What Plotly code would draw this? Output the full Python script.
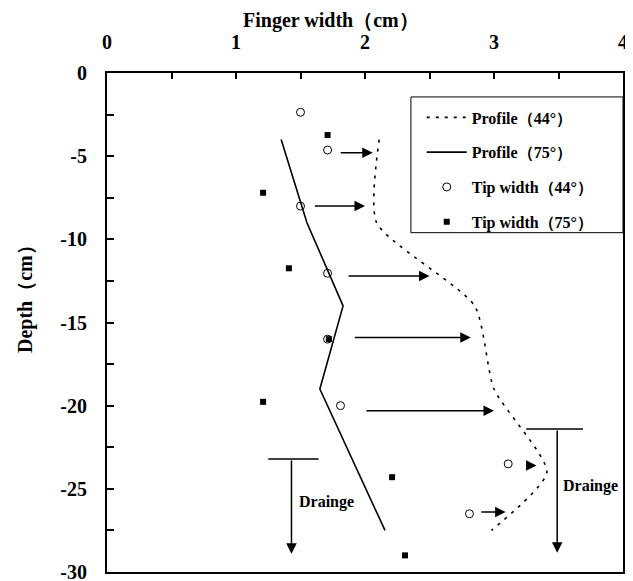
import plotly.graph_objects as go

# ---- data ----
depth_44 = [-4, -9, -14, -19, -24, -27.5]
profile_44 = [2.11, 2.09, 2.85, 3.0, 3.41, 2.98]

depth_75 = [-4, -9, -14, -19, -27.5]
profile_75 = [1.35, 1.55, 1.83, 1.65, 2.155]

tip44_depth = [-2.36, -4.63, -8.0, -12.04, -16.0, -20.0, -23.5, -26.5]
tip44_width = [1.50, 1.71, 1.50, 1.71, 1.71, 1.81, 3.11, 2.81]

tip75_depth = [-3.73, -7.2, -11.74, -16.0, -19.77, -24.3, -29.0]
tip75_width = [1.71, 1.21, 1.41, 1.72, 1.21, 2.21, 2.31]

# horizontal growth arrows: start width, end width, depth
arrow_start = [1.80, 1.60, 1.86, 1.91, 2.00, 3.24, 2.89]
arrow_end = [2.06, 2.00, 2.50, 2.82, 3.00, 3.33, 3.09]
arrow_depth = [-4.79, -8.0, -12.2, -15.9, -20.3, -23.6, -26.4]

# drainage markers: bar x0, bar x1, arrow x, top depth, bottom depth, label x, label y
drain_bar_x0 = [1.25, 3.25]
drain_bar_x1 = [1.64, 3.69]
drain_arrow_x = [1.43, 3.49]
drain_top = [-23.2, -21.4]
drain_bottom = [-28.9, -28.85]
drain_label_x = [1.70, 3.75]
drain_label_y = [-25.8, -24.8]
drain_label = "Drainge"

x_ticks = [0, 1, 2, 3, 4]
x_tick_labels = ["0", "1", "2", "3", "4"]
y_ticks = [0, -5, -10, -15, -20, -25, -30]
y_tick_labels = ["0", "-5", "-10", "-15", "-20", "-25", "-30"]

FONT = "Liberation Serif, Times New Roman, serif"

fig = go.Figure()
fig.add_trace(go.Scatter(
    x=profile_44, y=depth_44, mode="lines", name="Profile（44°）",
    line=dict(color="black", width=1.6, dash="3px,6px", shape="spline", smoothing=0.6),
    legendgroup="a"))
fig.add_trace(go.Scatter(
    x=profile_75, y=depth_75, mode="lines", name="Profile（75°）",
    line=dict(color="black", width=1.6), legendgroup="b"))
fig.add_trace(go.Scatter(
    x=tip44_width, y=tip44_depth, mode="markers", name="Tip width（44°）",
    marker=dict(symbol="circle-open", size=8, color="black", line=dict(width=1)),
    legendgroup="c"))
fig.add_trace(go.Scatter(
    x=tip75_width, y=tip75_depth, mode="markers", name="Tip width（75°）",
    marker=dict(symbol="square", size=6, color="black"), legendgroup="d"))

annotations = []
for xs, xe, d in zip(arrow_start, arrow_end, arrow_depth):
    annotations.append(dict(
        x=xe, y=d, ax=xs, ay=d, xref="x", yref="y", axref="x", ayref="y",
        text="", showarrow=True, arrowhead=2, arrowsize=1.4, arrowwidth=1.5,
        arrowcolor="black"))

shapes = []
for bx0, bx1, axx, top, bot, lx, ly in zip(drain_bar_x0, drain_bar_x1, drain_arrow_x,
                                             drain_top, drain_bottom, drain_label_x, drain_label_y):
    shapes.append(dict(type="line", xref="x", yref="y", x0=bx0, x1=bx1, y0=top, y1=top,
                       line=dict(color="black", width=1.5)))
    annotations.append(dict(
        x=axx, y=bot, ax=axx, ay=top, xref="x", yref="y", axref="x", ayref="y",
        text="", showarrow=True, arrowhead=2, arrowsize=1.4, arrowwidth=1.5,
        arrowcolor="black"))
    annotations.append(dict(
        x=lx, y=ly, xref="x", yref="y", text=drain_label, showarrow=False,
        font=dict(family=FONT, size=16, color="black", weight="bold")))

# legend frame
shapes.append(dict(type="rect", xref="paper", yref="paper", x0=0.589, x1=1.0,
                   y0=0.68, y1=0.952, line=dict(color="black", width=1),
                   fillcolor="white", layer="below"))

annotations.append(dict(
    x=0.434, y=1.106, xref="paper", yref="paper", xanchor="center", yanchor="middle",
    text="Finger width（cm）",
    showarrow=False, font=dict(family=FONT, size=20, color="black", weight="bold")))
annotations.append(dict(
    x=-0.159, y=0.557, xref="paper", yref="paper", xanchor="center", yanchor="middle",
    text="Depth（cm）", textangle=-90,
    showarrow=False, font=dict(family=FONT, size=20, color="black", weight="bold")))

# page body has an 8px margin, so the figure is shrunk by 8px and margins shifted
fig.update_layout(
    width=625, height=573,
    margin=dict(l=99, r=10, t=65, b=9, autoexpand=False),
    paper_bgcolor="white", plot_bgcolor="white",
    showlegend=True,
    legend=dict(x=0.61, y=0.945, xanchor="left", yanchor="top",
                bgcolor="rgba(0,0,0,0)", borderwidth=0, tracegroupgap=11,
                itemwidth=40,
                font=dict(family=FONT, size=16, color="black", weight="bold")),
    annotations=annotations,
    shapes=shapes,
    xaxis=dict(range=[0, 4], side="top", tickvals=x_ticks, ticktext=x_tick_labels,
               ticks="inside", ticklen=6, tickwidth=1.5, tickcolor="black",
               minor=dict(dtick=0.5, ticks="inside", ticklen=6, tickwidth=1.5, tickcolor="black"),
               showline=True, linecolor="black", linewidth=2, mirror=True,
               showgrid=False, zeroline=False, ticklabelstandoff=14, automargin=False,
               ticklabeloverflow="allow",
               tickfont=dict(family=FONT, size=20, color="black", weight="bold")),
    yaxis=dict(range=[-30, 0], tickvals=y_ticks, ticktext=y_tick_labels,
               ticks="inside", ticklen=7, tickwidth=1.5, tickcolor="black",
               minor=dict(dtick=2.5, ticks="inside", ticklen=7, tickwidth=1.5, tickcolor="black"),
               showline=True, linecolor="black", linewidth=2, mirror=True,
               showgrid=False, zeroline=False, ticklabelstandoff=14, automargin=False,
               ticklabeloverflow="allow",
               tickfont=dict(family=FONT, size=20, color="black", weight="bold")),
)

fig.write_html("out.html")
